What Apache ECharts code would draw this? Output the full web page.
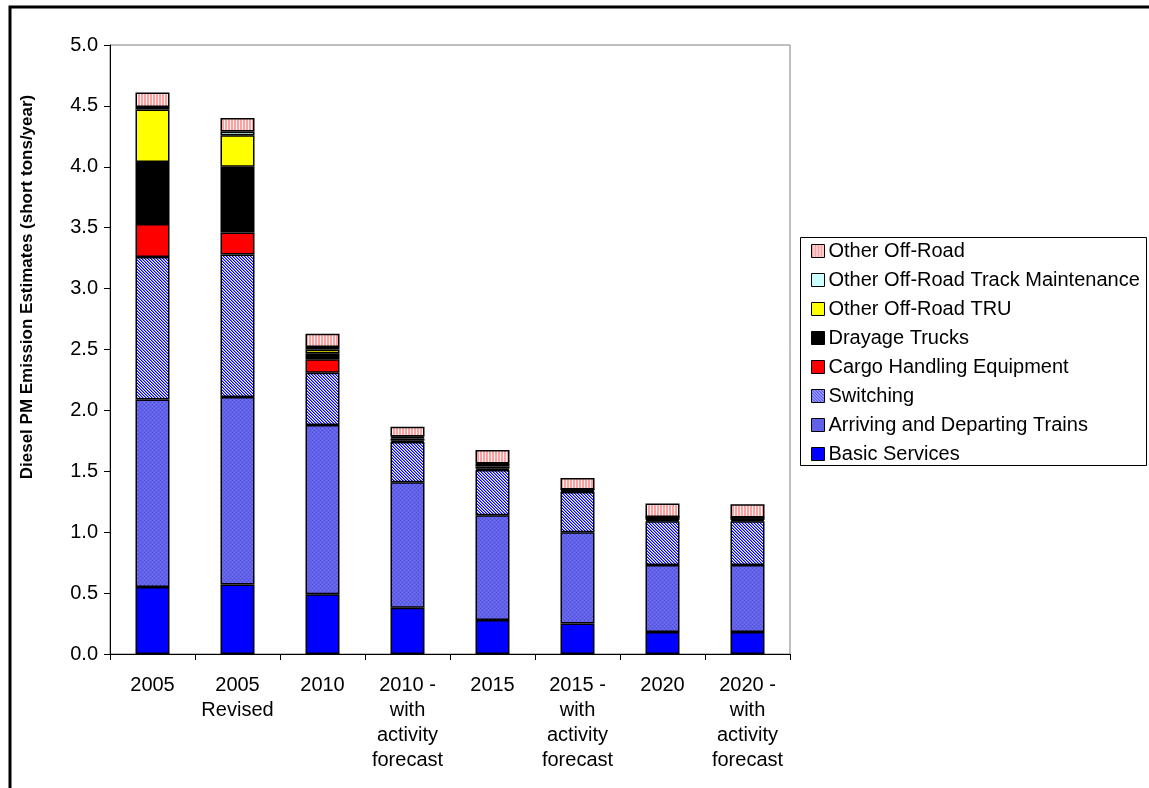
<!DOCTYPE html>
<html>
<head>
<meta charset="utf-8">
<title>Diesel PM Emission Estimates</title>
<script src="https://cdn.jsdelivr.net/npm/echarts@6/dist/echarts.min.js"></script>
<style>
  html, body { margin: 0; padding: 0; background: #fff; }
  #chart { width: 1149px; height: 788px; }
</style>
</head>
<body>
<div id="chart"></div>
<script>
// Categories (scenario / year)
const categories = [
  '2005',
  '2005\nRevised',
  '2010',
  '2010 -\nwith\nactivity\nforecast',
  '2015',
  '2015 -\nwith\nactivity\nforecast',
  '2020',
  '2020 -\nwith\nactivity\nforecast'
];

// Emission estimates by source, short tons/year
const basicServices     = [0.55, 0.57, 0.49, 0.38, 0.28, 0.25, 0.18, 0.18];
const arrivingDeparting = [1.54, 1.54, 1.39, 1.03, 0.86, 0.75, 0.55, 0.55];
const switching         = [1.17, 1.17, 0.43, 0.33, 0.37, 0.33, 0.36, 0.36];
const cargoHandling     = [0.27, 0.18, 0.11, 0.01, 0.01, 0.005, 0.01, 0.01];
const drayageTrucks     = [0.51, 0.54, 0.05, 0.02, 0.02, 0.01, 0.02, 0.015];
const offRoadTRU        = [0.43, 0.26, 0.03, 0.01, 0.02, 0.005, 0.005, 0.005];
const trackMaintenance  = [0.02, 0.03, 0.02, 0.005, 0.005, 0, 0, 0];
const otherOffRoad      = [0.12, 0.11, 0.11, 0.08, 0.11, 0.095, 0.11, 0.11];

// Y axis ticks
const yMin = 0, yMax = 5, yStep = 0.5;

const FONT = '"Liberation Sans", Arial, sans-serif';

// Small canvas tiles used as hatched fills
function tile(w, h, draw) {
  const c = document.createElement('canvas');
  c.width = w; c.height = h;
  draw(c.getContext('2d'));
  return { image: c, repeat: 'repeat' };
}
const switchingFill = tile(3, 3, ctx => {
  ctx.fillStyle = '#ffffff'; ctx.fillRect(0, 0, 3, 3);
  for (let y = 0; y < 3; y++) {
    ctx.fillStyle = '#0000ff';
    ctx.fillRect(y, y, 1, 1);
    ctx.fillStyle = '#8080ff';
    ctx.fillRect((y + 1) % 3, y, 1, 1);
  }
});
const arrivingFill = tile(4, 4, ctx => {
  ctx.fillStyle = '#6262e8'; ctx.fillRect(0, 0, 4, 4);
  ctx.fillStyle = '#5050dc';
  ctx.fillRect(0, 0, 1, 1); ctx.fillRect(2, 2, 1, 1);
  ctx.fillStyle = '#7070f0';
  ctx.fillRect(2, 0, 1, 1); ctx.fillRect(0, 2, 1, 1);
});
const otherFill = tile(3, 1, ctx => {
  ctx.fillStyle = '#ffa0a0'; ctx.fillRect(0, 0, 2, 1);
  ctx.fillStyle = '#fff4f4'; ctx.fillRect(2, 0, 1, 1);
});

const seriesDefs = [
  { name: 'Basic Services', data: basicServices, color: '#0000ff' },
  { name: 'Arriving and Departing Trains', data: arrivingDeparting, color: arrivingFill },
  { name: 'Switching', data: switching, color: switchingFill },
  { name: 'Cargo Handling Equipment', data: cargoHandling, color: '#ff0000' },
  { name: 'Drayage Trucks', data: drayageTrucks, color: '#000000' },
  { name: 'Other Off-Road TRU', data: offRoadTRU, color: '#ffff00' },
  { name: 'Other Off-Road Track Maintenance', data: trackMaintenance, color: '#ccffff' },
  { name: 'Other Off-Road', data: otherOffRoad, color: otherFill }
];

const chart = echarts.init(document.getElementById('chart'), null, { renderer: 'canvas' });

const option = {
  animation: false,
  backgroundColor: '#ffffff',
  textStyle: { fontFamily: FONT },
  grid: {
    left: 110, right: 359, top: 45, bottom: 134,
    show: true, borderColor: '#808080', borderWidth: 1
  },
  legend: {
    data: seriesDefs.map(s => s.name).reverse(),
    orient: 'vertical',
    left: 806, top: 236,
    itemWidth: 13, itemHeight: 13, itemGap: 9,
    icon: 'rect',
    selectedMode: false,
    itemStyle: { borderColor: '#000', borderWidth: 1 },
    textStyle: { fontFamily: FONT, fontSize: 20, color: '#000', padding: [0, 0, 0, -1] }
  },
  xAxis: {
    type: 'category',
    data: categories,
    axisLine: { lineStyle: { color: '#000', width: 1 } },
    axisTick: { show: true, inside: false, length: 6, lineStyle: { color: '#000' } },
    axisLabel: {
      interval: 0, margin: 19, color: '#000',
      fontFamily: FONT, fontSize: 20, lineHeight: 25, align: 'center'
    },
    splitLine: { show: false }
  },
  yAxis: {
    type: 'value',
    min: yMin, max: yMax, interval: yStep,
    axisLine: { show: true, lineStyle: { color: '#000', width: 1 } },
    axisTick: { show: true, inside: false, length: 6, lineStyle: { color: '#000' } },
    axisLabel: {
      margin: 12, color: '#000', fontFamily: FONT, fontSize: 20,
      formatter: v => v.toFixed(1)
    },
    splitLine: { show: false }
  },
  graphic: [
    {
      type: 'rect', silent: true, z: 100,
      shape: { x: 10, y: 7, width: 1200, height: 900 },
      style: { fill: 'none', stroke: '#000', lineWidth: 3 }
    },
    {
      type: 'rect', silent: true, z: 1,
      shape: { x: 800.5, y: 237.5, width: 346, height: 228 },
      style: { fill: '#fff', stroke: '#000', lineWidth: 1 }
    },
    {
      type: 'text', silent: true,
      x: 27, y: 287, rotation: Math.PI / 2,
      style: {
        text: 'Diesel PM Emission Estimates (short tons/year)',
        font: 'bold 17px ' + FONT,
        fill: '#000', textAlign: 'center', textVerticalAlign: 'middle'
      }
    }
  ],
  series: seriesDefs.map(s => ({
    name: s.name,
    type: 'bar',
    stack: 'total',
    barWidth: '40%',
    data: s.data,
    itemStyle: { color: s.color, borderColor: '#000', borderWidth: 1.5 },
    emphasis: { disabled: true }
  }))
};

chart.setOption(option);
</script>
</body>
</html>
